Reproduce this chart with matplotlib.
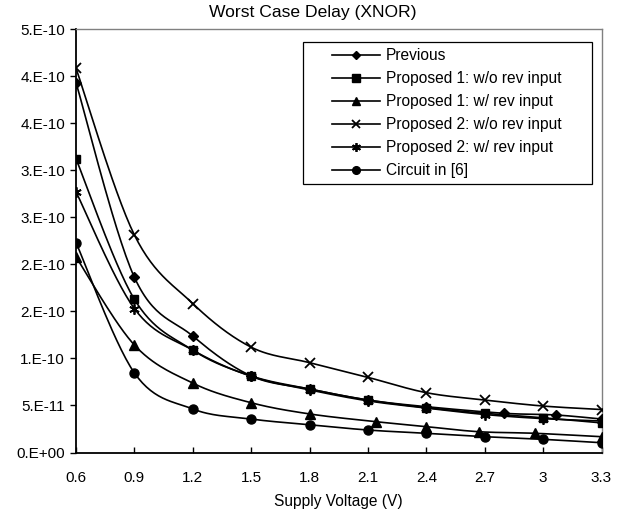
import numpy as np
import matplotlib
matplotlib.use("Agg")
import matplotlib.pyplot as plt
from matplotlib.lines import Line2D
from matplotlib.patches import Rectangle

plt.rcParams['font.family'] = ['Liberation Sans', 'DejaVu Sans']

# ---------------- data ----------------
title = "Worst Case Delay (XNOR)"
xlabel = "Supply Voltage (V)"
series_names = ["Previous", "Proposed 1: w/o rev input", "Proposed 1: w/ rev input",
                "Proposed 2: w/o rev input", "Proposed 2: w/ rev input", "Circuit in [6]"]

x_prev = [0.6, 0.9, 1.2, 1.5, 1.8, 2.1, 2.4, 2.8, 3.065, 3.3]
y_prev = [3.933e-10, 1.863e-10, 1.238e-10, 0.814e-10, 0.675e-10, 0.558e-10, 0.487e-10, 0.417e-10, 0.399e-10, 0.356e-10]

x_p1wo = [0.6, 0.9, 1.2, 1.5, 1.8, 2.1, 2.4, 2.7, 3.0, 3.3]
y_p1wo = [3.123e-10, 1.629e-10, 1.089e-10, 0.814e-10, 0.675e-10, 0.558e-10, 0.477e-10, 0.417e-10, 0.369e-10, 0.315e-10]

x_p1w = [0.6, 0.9, 1.2, 1.5, 1.8, 2.14, 2.4, 2.67, 2.96, 3.3]
y_p1w = [2.079e-10, 1.143e-10, 0.738e-10, 0.529e-10, 0.41e-10, 0.328e-10, 0.275e-10, 0.221e-10, 0.204e-10, 0.168e-10]

x_p2wo = [0.6, 0.9, 1.2, 1.5, 1.8, 2.1, 2.4, 2.7, 3.0, 3.3]
y_p2wo = [4.086e-10, 2.313e-10, 1.584e-10, 1.12e-10, 0.955e-10, 0.799e-10, 0.636e-10, 0.558e-10, 0.494e-10, 0.457e-10]

x_p2w = [0.6, 0.9, 1.2, 1.5, 1.8, 2.1, 2.4, 2.7, 3.0, 3.3]
y_p2w = [2.772e-10, 1.53e-10, 1.089e-10, 0.81e-10, 0.666e-10, 0.549e-10, 0.473e-10, 0.404e-10, 0.36e-10, 0.335e-10]

x_c6 = [0.6, 0.9, 1.2, 1.5, 1.8, 2.1, 2.4, 2.7, 3.0, 3.3]
y_c6 = [2.232e-10, 0.846e-10, 0.463e-10, 0.356e-10, 0.295e-10, 0.239e-10, 0.204e-10, 0.168e-10, 0.14e-10, 0.104e-10]

x_ticks = [0.6, 0.9, 1.2, 1.5, 1.8, 2.1, 2.4, 2.7, 3.0, 3.3]
x_ticklabels = ["0.6", "0.9", "1.2", "1.5", "1.8", "2.1", "2.4", "2.7", "3", "3.3"]
y_ticks = [0.0, 0.5e-10, 1.0e-10, 1.5e-10, 2.0e-10, 2.5e-10, 3.0e-10, 3.5e-10, 4.0e-10, 4.5e-10]
y_ticklabels = ["0.E+00", "5.E-11", "1.E-10", "2.E-10", "2.E-10", "3.E-10",
                "3.E-10", "4.E-10", "4.E-10", "5.E-10"]
# ---------------------------------------

asterisk = (6, 2, 0)
styles = [
    dict(marker='D', ms=5.0),
    dict(marker='s', ms=6.0),
    dict(marker='^', ms=6.5),
    dict(marker='x', ms=7.0, mew=1.3),
    dict(marker=asterisk, ms=7.5, mew=1.3),
    dict(marker='o', ms=6.5),
]


def smooth(x, y, n=30):
    pts = np.column_stack([x, y]).astype(float)
    P = np.vstack([pts[0], pts, pts[-1]])
    t = np.linspace(0, 1, n)[:, None]
    out = []
    for i in range(1, len(P) - 2):
        p0, p1, p2, p3 = P[i - 1], P[i], P[i + 1], P[i + 2]
        c1 = p1 + (p2 - p0) / 6.0
        c2 = p2 - (p3 - p1) / 6.0
        seg = ((1 - t) ** 3) * p1 + 3 * ((1 - t) ** 2) * t * c1 + 3 * (1 - t) * t ** 2 * c2 + t ** 3 * p2
        out.append(seg if i == 1 else seg[1:])
    c = np.vstack(out)
    return c[:, 0], c[:, 1]


W, H = 624, 513
fig = plt.figure(figsize=(W / 100, H / 100), dpi=100)
left, right, top, bottom = 76, 601.5, 29.3, 452.5
ax = fig.add_axes([left / W, 1 - bottom / H, (right - left) / W, (bottom - top) / H])

data = [(x_prev, y_prev), (x_p1wo, y_p1wo), (x_p1w, y_p1w),
        (x_p2wo, y_p2wo), (x_p2w, y_p2w), (x_c6, y_c6)]

handles = []
for (xs, ys), st, name in zip(data, styles, series_names):
    sx, sy = smooth(xs, ys)
    ax.plot(sx, sy, color='black', lw=1.2, solid_capstyle='round', zorder=2)
    ax.plot(xs, ys, linestyle='none', color='black', mfc='black', mec='black', zorder=3, **st)
    hst = dict(st)
    hst['ms'] = st['ms'] * 0.85
    handles.append(Line2D([], [], color='black', lw=1.2, mfc='black', mec='black', **hst))

ax.set_xlim(0.6, 3.3)
ax.set_ylim(0, 4.5e-10)
ax.set_xticks(x_ticks)
ax.set_xticklabels(x_ticklabels)
ax.set_yticks(y_ticks)
ax.set_yticklabels(y_ticklabels)

ax.tick_params(axis='y', direction='out', length=4, width=1.0, labelsize=11, pad=4)
ax.tick_params(axis='x', direction='in', length=4, width=1.0, labelsize=11, pad=13.5)

for s in ['left', 'bottom']:
    ax.spines[s].set_color('black')
    ax.spines[s].set_linewidth(1.3)
for s in ['top', 'right']:
    ax.spines[s].set_color('#808080')
    ax.spines[s].set_linewidth(1.0)

ax.set_xlabel(xlabel, fontsize=11.2, labelpad=6)
fig.text(312.7 / W, 1 - 13 / H, title, ha='center', va='center', fontsize=12.6)

# legend frame
fig.patches.append(Rectangle((303.3 / W, 1 - 184 / H), (591.7 - 303.3) / W, (184 - 41.7) / H,
                             transform=fig.transFigure, facecolor='white', edgecolor='black',
                             lw=0.9, zorder=4))
leg = fig.legend(handles, series_names, loc='upper left',
                 bbox_to_anchor=(331.7 / W, 1 - 48 / H), bbox_transform=fig.transFigure,
                 frameon=False, fontsize=11.2, handlelength=3.08, handletextpad=0.39,
                 borderpad=0.0, borderaxespad=0.0, labelspacing=0.52)
leg.set_zorder(5)

fig.savefig('out.png', dpi=100)
